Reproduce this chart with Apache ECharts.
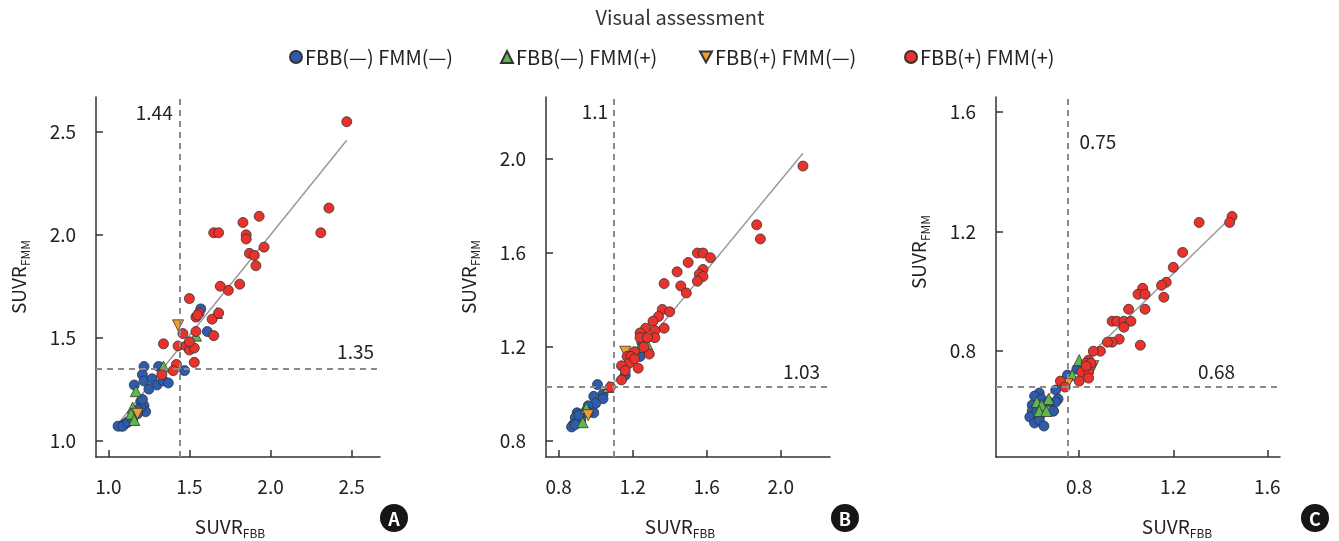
<!DOCTYPE html>
<html>
<head>
<meta charset="utf-8">
<script src="https://cdn.jsdelivr.net/npm/echarts@6/dist/echarts.min.js"></script>
<style>
  html, body { margin: 0; padding: 0; background: #fff; }
  #main { width: 1339px; height: 541px; }
</style>
</head>
<body>
<div id="main"></div>
<script>
// group names (legend)
const groupNames = ["FBB(—) FMM(—)", "FBB(—) FMM(+)", "FBB(+) FMM(—)", "FBB(+) FMM(+)"];

// panel A : SUVR (FBB, FMM) pairs
const aBlue = [[1.57,1.64],[1.61,1.53],[1.47,1.34],[1.31,1.36],[1.22,1.36],[1.21,1.32],[1.16,1.27],[1.22,1.29],[1.27,1.30],[1.25,1.25],[1.30,1.27],[1.34,1.29],[1.37,1.28],[1.20,1.19],[1.22,1.17],[1.23,1.14],[1.20,1.16],[1.18,1.15],[1.15,1.11],[1.12,1.09],[1.10,1.08],[1.08,1.07],[1.06,1.07],[1.09,1.07],[1.12,1.09],[1.15,1.10],[1.18,1.13],[1.21,1.20]];
const aGreen = [[1.67,1.62],[1.54,1.51],[1.34,1.36],[1.17,1.24],[1.15,1.16],[1.14,1.13],[1.16,1.10]];
const aOrange = [[1.43,1.56],[1.18,1.13]];
const aRed = [[2.47,2.55],[2.36,2.13],[2.31,2.01],[1.93,2.09],[1.83,2.06],[1.85,2.00],[1.85,1.98],[1.65,2.01],[1.68,2.01],[1.96,1.94],[1.87,1.91],[1.90,1.90],[1.91,1.85],[1.81,1.76],[1.74,1.73],[1.69,1.75],[1.50,1.69],[1.56,1.62],[1.54,1.60],[1.55,1.61],[1.64,1.59],[1.68,1.62],[1.65,1.51],[1.46,1.52],[1.54,1.53],[1.34,1.47],[1.43,1.46],[1.48,1.46],[1.50,1.44],[1.53,1.45],[1.50,1.48],[1.53,1.38],[1.42,1.37],[1.40,1.34],[1.33,1.32]];
const aFit = [[1.07,1.09],[2.47,2.46]];
const aCut = [1.44, 1.35];
const aTicks = [1.0, 1.5, 2.0, 2.5];
const aRange = [0.924, 2.675, 0.92, 2.67];

// panel B
const bBlue = [[1.16,1.08],[1.25,1.22],[1.24,1.16],[1.01,1.04],[1.04,1.00],[0.99,0.99],[1.04,0.98],[1.00,0.96],[0.96,0.95],[0.95,0.93],[0.99,0.92],[0.90,0.92],[0.89,0.90],[0.92,0.89],[0.88,0.87],[0.87,0.86],[0.89,0.87],[0.91,0.91],[0.96,0.92]];
const bGreen = [[1.24,1.20],[1.28,1.21],[1.07,1.03],[0.95,0.94],[0.93,0.88]];
const bOrange = [[1.16,1.18],[0.96,0.91]];
const bRed = [[2.12,1.97],[1.87,1.72],[1.89,1.66],[1.55,1.60],[1.58,1.60],[1.62,1.58],[1.58,1.53],[1.56,1.51],[1.58,1.50],[1.55,1.48],[1.50,1.56],[1.44,1.52],[1.37,1.47],[1.46,1.46],[1.49,1.43],[1.36,1.36],[1.40,1.35],[1.34,1.33],[1.31,1.31],[1.37,1.28],[1.27,1.28],[1.24,1.26],[1.32,1.27],[1.32,1.24],[1.24,1.24],[1.28,1.24],[1.29,1.17],[1.26,1.20],[1.21,1.18],[1.17,1.16],[1.19,1.16],[1.23,1.11],[1.18,1.13],[1.21,1.15],[1.14,1.12],[1.16,1.10],[1.14,1.06],[1.08,1.03]];
const bFit = [[0.88,0.84],[2.12,2.025]];
const bCut = [1.1, 1.03];
const bTicks = [0.8, 1.2, 1.6, 2.0];
const bRange = [0.732, 2.266, 0.732, 2.264];

// panel C
const cBlue = [[0.75,0.72],[0.79,0.74],[0.70,0.67],[0.71,0.64],[0.70,0.63],[0.63,0.66],[0.61,0.65],[0.64,0.64],[0.60,0.62],[0.69,0.60],[0.60,0.60],[0.59,0.58],[0.63,0.58],[0.69,0.60],[0.61,0.56],[0.63,0.57],[0.65,0.55],[0.67,0.63],[0.62,0.60]];
const cGreen = [[0.80,0.77],[0.77,0.72],[0.67,0.64],[0.62,0.63],[0.64,0.62],[0.63,0.60],[0.66,0.60]];
const cOrange = [[0.86,0.75],[0.75,0.69],[0.85,0.74]];
const cRed = [[1.45,1.25],[1.44,1.23],[1.31,1.23],[1.24,1.13],[1.20,1.08],[1.17,1.03],[1.15,1.02],[1.16,0.98],[1.07,1.01],[1.05,0.99],[1.08,0.99],[1.08,0.94],[1.01,0.94],[0.94,0.90],[0.96,0.90],[0.99,0.90],[1.02,0.90],[0.99,0.88],[0.97,0.84],[0.94,0.83],[0.92,0.83],[1.06,0.82],[0.89,0.80],[0.86,0.80],[0.84,0.77],[0.83,0.76],[0.85,0.76],[0.81,0.73],[0.84,0.73],[0.80,0.70],[0.84,0.71],[0.72,0.70],[0.74,0.68],[0.83,0.75]];
const cFit = [[0.6,0.6],[1.448,1.249]];
const cCut = [0.75, 0.68];
const cTicks = [0.8, 1.2, 1.6];
const cRange = [0.446, 1.654, 0.4465, 1.649];

const FONT = "'Noto Sans CJK KR', 'Noto Sans', sans-serif";
const colors = ["#2c5bb0", "#5cb84a", "#f39c2e", "#e8322b"];
const downTri = "path://M0,0 L10,0 L5,9 Z";
const symbols = ["circle", "triangle", downTri, "circle"];
const sizes = [10, 11, 11, 10];

const panels = [
  { groups: [aBlue, aGreen, aOrange, aRed], fit: aFit, cut: aCut, ticks: aTicks, range: aRange, letter: "A" },
  { groups: [bBlue, bGreen, bOrange, bRed], fit: bFit, cut: bCut, ticks: bTicks, range: bRange, letter: "B" },
  { groups: [cBlue, cGreen, cOrange, cRed], fit: cFit, cut: cCut, ticks: cTicks, range: cRange, letter: "C" }
];

// layout bits (pixels)
const gridLefts = [96, 546, 996];
const legendLefts = [284, 495, 694, 899];
const xNamePos = [[230, 527], [680, 527], [1177, 527]];
const yNamePos = [[19, 277], [469, 277], [919, 252]];
const badgePos = [[394, 518], [845, 518], [1315, 518]];
// vertical cut label: [dx from line, y, align]; horizontal cut label: [right x, dy above line]
const vLab = [[-7, 113, "right"], [-6, 112, "right"], [12, 142, "left"]];
const hLab = [[374, -17], [820, -15], [1235, -15]];

const myChart = echarts.init(document.getElementById("main"));

const grid = [], xAxis = [], yAxis = [], series = [];

panels.forEach((p, i) => {
  grid.push({ left: gridLefts[i], top: 97, width: 284, height: 360 });
  const axisCommon = {
    gridIndex: i,
    type: "value",
    splitLine: { show: false },
    axisLine: { show: true, onZero: false, lineStyle: { color: "#333", width: 1.5 } },
    axisTick: { show: true, inside: true, length: 7, customValues: p.ticks, lineStyle: { color: "#333", width: 1.5 } },
    axisLabel: {
      customValues: p.ticks,
      formatter: v => v.toFixed(1),
      fontSize: 19, fontFamily: FONT, color: "#222", margin: 20
    }
  };
  xAxis.push(Object.assign({}, axisCommon, { min: p.range[0], max: p.range[1] }));
  yAxis.push(Object.assign({}, axisCommon, { min: p.range[2], max: p.range[3] }));

  // regression line + cut-off lines
  series.push({
    type: "line",
    xAxisIndex: i, yAxisIndex: i,
    data: p.fit,
    showSymbol: false,
    silent: true,
    z: 1,
    lineStyle: { color: "#9a9a9a", width: 1.5 },
    markLine: {
      symbol: "none",
      silent: true,
      label: { show: false },
      lineStyle: { type: [6, 5], color: "#8a8a8a", width: 2 },
      data: [{ xAxis: p.cut[0] }, { yAxis: p.cut[1] }]
    }
  });

  p.groups.forEach((g, k) => {
    series.push({
      name: groupNames[k],
      type: "scatter",
      xAxisIndex: i, yAxisIndex: i,
      data: g,
      symbol: symbols[k],
      symbolSize: sizes[k],
      z: 3,
      itemStyle: { color: colors[k], borderColor: "#333", borderWidth: 0.8, opacity: 1 }
    });
  });
});

// one legend per group so each entry sits where it does in the figure
const legends = groupNames.map((name, k) => ({
  top: 42,
  left: legendLefts[k],
  itemWidth: 12,
  itemHeight: 12,
  itemGap: 6,
  selectedMode: false,
  textStyle: { fontSize: 20, color: "#222", fontFamily: FONT, padding: [0, 0, 0, -2] },
  data: [name]
}));

const option = {
  animation: false,
  textStyle: { fontFamily: FONT },
  title: {
    text: "Visual assessment",
    left: 675,
    textAlign: "center",
    top: 2,
    textStyle: { fontSize: 20, fontWeight: "normal", color: "#333", fontFamily: FONT }
  },
  legend: legends,
  grid: grid,
  xAxis: xAxis,
  yAxis: yAxis,
  series: series
};

myChart.setOption(option);

// text annotations: axis names, cut-off values, panel letters
const graphics = [];
const subRich = {
  a: { fontSize: 19, fontFamily: FONT, fill: "#222", lineHeight: 24 },
  b: { fontSize: 12, fontFamily: FONT, fill: "#222", lineHeight: 12, verticalAlign: "bottom" }
};
panels.forEach((p, i) => {
  graphics.push({
    type: "text", x: xNamePos[i][0], y: xNamePos[i][1],
    style: { text: "{a|SUVR}{b|FBB}", rich: subRich, align: "center", verticalAlign: "middle" }
  });
  graphics.push({
    type: "text", x: yNamePos[i][0], y: yNamePos[i][1], rotation: Math.PI / 2,
    style: { text: "{a|SUVR}{b|FMM}", rich: subRich, align: "center", verticalAlign: "middle" }
  });
  const pv = myChart.convertToPixel({ gridIndex: i }, [p.cut[0], p.cut[1]]);
  graphics.push({
    type: "text", x: pv[0] + vLab[i][0], y: vLab[i][1],
    style: { text: String(p.cut[0]), fontSize: 19, fontFamily: FONT, fill: "#222", align: vLab[i][2], verticalAlign: "middle" }
  });
  graphics.push({
    type: "text", x: hLab[i][0], y: pv[1] + hLab[i][1],
    style: { text: p.cut[1].toFixed(2), fontSize: 19, fontFamily: FONT, fill: "#222", align: "right", verticalAlign: "middle" }
  });
  graphics.push({
    type: "circle", shape: { cx: badgePos[i][0], cy: badgePos[i][1], r: 14 },
    style: { fill: "#161616" }
  });
  graphics.push({
    type: "text", x: badgePos[i][0], y: badgePos[i][1] + 1,
    style: { text: p.letter, fontSize: 18, fontWeight: "bold", fontFamily: FONT, fill: "#fff", align: "center", verticalAlign: "middle" }
  });
});
myChart.setOption({ graphic: graphics });

window.addEventListener("resize", () => {
  myChart.resize();
});
</script>
</body>
</html>
